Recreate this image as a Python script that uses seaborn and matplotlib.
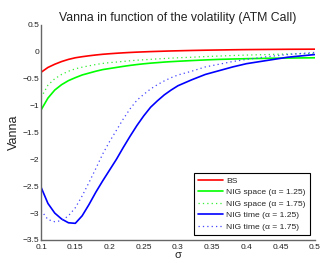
import matplotlib

matplotlib.use("Agg")
import matplotlib.pyplot as plt
from matplotlib.ticker import FuncFormatter, MultipleLocator
import seaborn as sns

sigma = [0.10, 0.11, 0.12, 0.13, 0.14, 0.15, 0.16, 0.17, 0.18, 0.19, 0.20,
         0.21, 0.22, 0.23, 0.24, 0.25, 0.26, 0.27, 0.28, 0.29, 0.30,
         0.32, 0.34, 0.36, 0.38, 0.40, 0.43, 0.46, 0.50]

vanna_bs = [-0.38, -0.29, -0.23, -0.18, -0.14, -0.11, -0.09, -0.073, -0.058, -0.045, -0.035,
            -0.026, -0.018, -0.011, -0.005, 0.0, 0.005, 0.009, 0.013, 0.017, 0.02,
            0.026, 0.031, 0.035, 0.039, 0.042, 0.045, 0.048, 0.05]
vanna_space_125 = [-1.08, -0.86, -0.71, -0.61, -0.535, -0.48, -0.43, -0.395, -0.36, -0.33, -0.31,
                   -0.29, -0.27, -0.252, -0.236, -0.222, -0.21, -0.2, -0.19, -0.182, -0.175,
                   -0.162, -0.15, -0.14, -0.133, -0.127, -0.12, -0.115, -0.11]
vanna_space_175 = [-0.85, -0.62, -0.5, -0.42, -0.36, -0.315, -0.285, -0.26, -0.235, -0.215, -0.2,
                   -0.19, -0.178, -0.166, -0.155, -0.147, -0.139, -0.131, -0.124, -0.117, -0.11,
                   -0.1, -0.088, -0.078, -0.068, -0.06, -0.05, -0.04, -0.03]
vanna_time_125 = [-2.52, -2.82, -3.0, -3.11, -3.18, -3.19, -3.05, -2.84, -2.61, -2.4, -2.2,
                  -2.0, -1.78, -1.57, -1.37, -1.19, -1.03, -0.91, -0.8, -0.71, -0.63,
                  -0.52, -0.42, -0.35, -0.28, -0.22, -0.16, -0.1, -0.05]
vanna_time_175 = [-2.95, -3.12, -3.16, -3.14, -3.05, -2.9, -2.68, -2.43, -2.17, -1.9, -1.67,
                  -1.46, -1.25, -1.06, -0.9, -0.79, -0.69, -0.61, -0.54, -0.48, -0.43,
                  -0.36, -0.28, -0.23, -0.18, -0.14, -0.09, -0.05, -0.01]

sns.set_style("white")
plt.rcParams["font.family"] = ["Liberation Sans", "DejaVu Sans"]

fig, ax = plt.subplots(figsize=(3.21, 2.63), dpi=100)
fig.subplots_adjust(left=0.128, right=0.981, bottom=0.0875, top=0.905)

series = [
    (vanna_bs, "#ff0000", "-", 1.2, "BS"),
    (vanna_space_125, "#00ff00", "-", 1.2, "NIG space (\u03b1 = 1.25)"),
    (vanna_space_175, "#33ee33", (0, (1, 2.5)), 0.9, "NIG space (\u03b1 = 1.75)"),
    (vanna_time_125, "#0000ff", "-", 1.2, "NIG time (\u03b1 = 1.25)"),
    (vanna_time_175, "#4444ff", (0, (1, 2.5)), 0.9, "NIG time (\u03b1 = 1.75)"),
]
for values, color, style, width, label in series:
    sns.lineplot(x=sigma, y=values, ax=ax, color=color, linestyle=style,
                 linewidth=width, label=label)

ax.set_xlim(0.1, 0.5)
ax.set_ylim(-3.5, 0.5)
ax.xaxis.set_major_locator(MultipleLocator(0.05))
ax.yaxis.set_major_locator(MultipleLocator(0.5))
fmt = FuncFormatter(lambda v, _p: f"{v:g}".replace("-", "\u2212"))
ax.xaxis.set_major_formatter(fmt)
ax.yaxis.set_major_formatter(fmt)
ax.tick_params(direction="in", length=3, width=0.6, labelsize=6,
               colors="#444444", labelcolor="#222222", pad=1.5)
ax.tick_params(axis="x", pad=3)

for side in ("top", "right"):
    ax.spines[side].set_visible(False)
for side in ("left", "bottom"):
    ax.spines[side].set_color("#666666")
    ax.spines[side].set_linewidth(1.0)

ax.set_title("Vanna in function of the volatility (ATM Call)", fontsize=8.8,
             color="#222222", pad=3)
ax.set_ylabel("Vanna", fontsize=9, color="#222222", labelpad=2)
ax.set_xlabel("\u03c3", fontsize=8, color="#222222", labelpad=-1)

leg = ax.legend(loc="lower right", fontsize=6.1, frameon=True, fancybox=False,
                edgecolor="black", framealpha=1, borderpad=0.5,
                handlelength=2.95, handletextpad=0.35, labelspacing=0.42,
                borderaxespad=0.6)
leg.get_frame().set_linewidth(0.8)

fig.savefig("out.png", dpi=100)
plt.close(fig)
